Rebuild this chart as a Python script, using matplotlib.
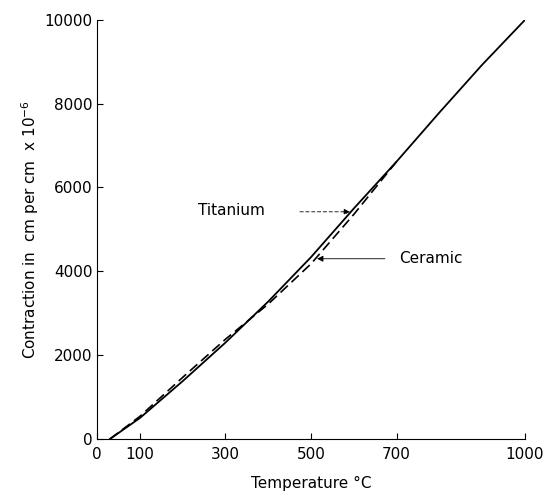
import numpy as np
import matplotlib.pyplot as plt

# Titanium (solid) and ceramic (dashed) contraction curves
ti_temp = [30, 100, 200, 300, 400, 500, 600, 700, 800, 900, 1000]
ti_contr = [0, 500, 1380, 2300, 3280, 4340, 5500, 6620, 7790, 8930, 10000]

cer_temp = [30, 100, 200, 300, 400, 500, 600, 700]
cer_contr = [0, 540, 1470, 2380, 3220, 4180, 5360, 6620]

x_ticks = [0, 100, 300, 500, 700, 1000]
y_ticks = [0, 2000, 4000, 6000, 8000, 10000]

fig = plt.figure(figsize=(5.55, 4.96), dpi=100)
ax = fig.add_axes([0.175, 0.115, 0.771, 0.845])

ax.plot(ti_temp, ti_contr, color='black', lw=1.3)
ax.plot(cer_temp, cer_contr, color='black', lw=1.2, ls=(0, (6, 3)))

ax.set_xlim(0, 1000)
ax.set_ylim(0, 10000)
ax.set_xticks(x_ticks)
ax.set_yticks(y_ticks)
ax.tick_params(direction='in', length=4, labelsize=11, width=0.8)
ax.tick_params(axis='x', pad=6)
ax.spines['top'].set_visible(False)
ax.spines['right'].set_visible(False)

ax.set_xlabel('Temperature °C', fontsize=11, labelpad=10)
ax.set_ylabel('Contraction in  cm per cm  x $\\mathregular{10^{-6}}$', fontsize=11, labelpad=2)

# labels with pointer arrows
ax.text(236, 5440, 'Titanium', fontsize=11, va='center', ha='left')
ax.annotate('', xy=(591, 5420), xytext=(474, 5420),
            arrowprops=dict(arrowstyle='-|>', color='black', lw=0.6,
                            ls=(0, (4, 3)), shrinkA=0, shrinkB=0, mutation_scale=9))
ax.annotate('Ceramic', xy=(514, 4300), xytext=(705, 4300),
            fontsize=11, va='center', ha='left',
            arrowprops=dict(arrowstyle='-|>', color='black', lw=0.6,
                            shrinkA=8, shrinkB=0, mutation_scale=9))

fig.savefig('out.png', dpi=100)
